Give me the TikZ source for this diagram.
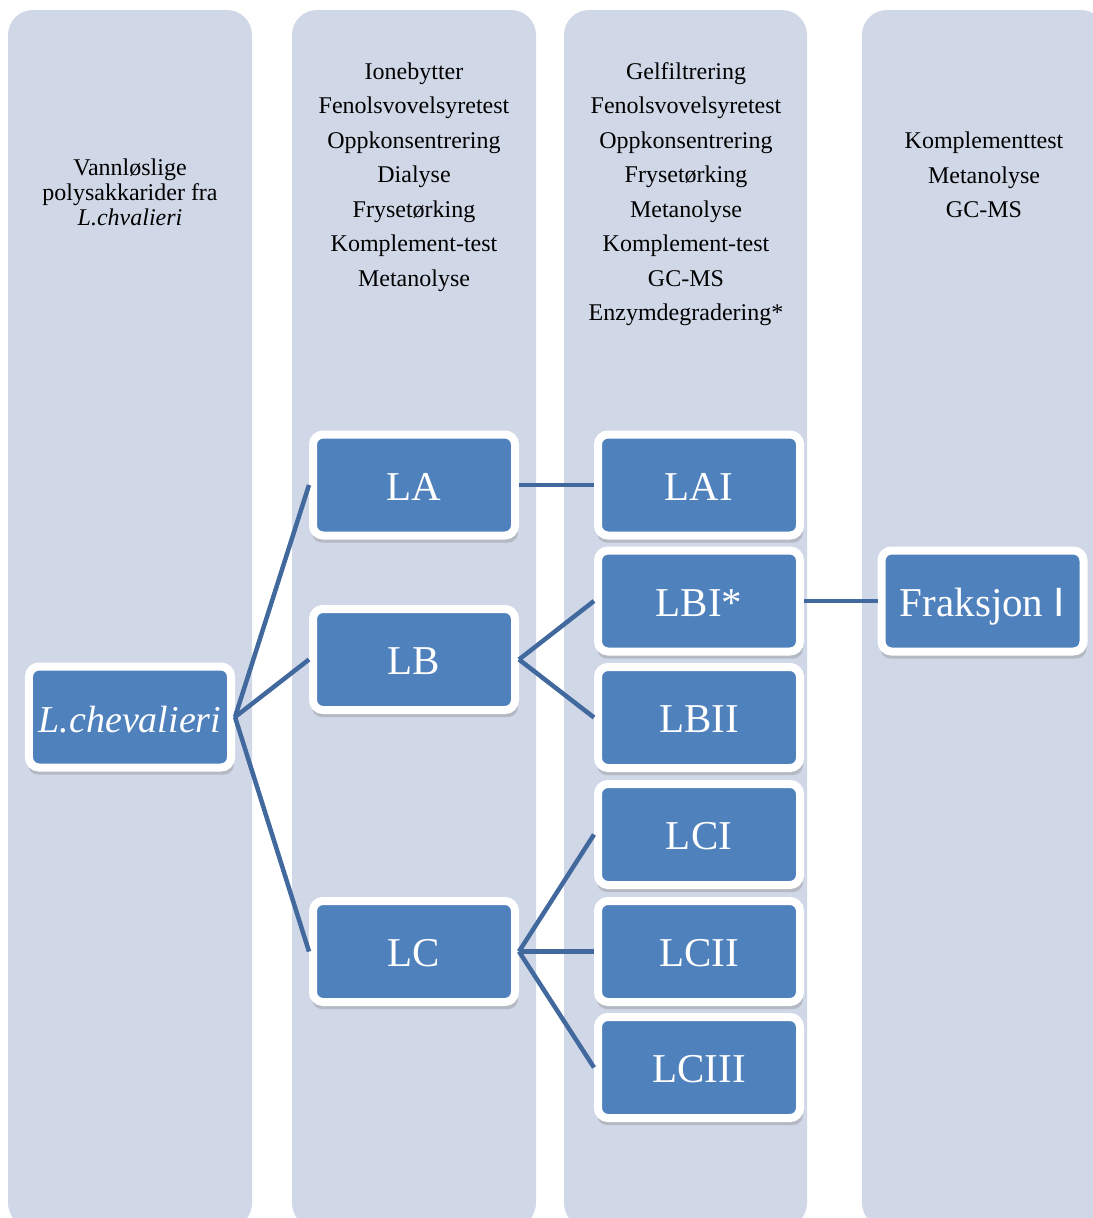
\documentclass[tikz,border=0pt]{standalone}
\usepackage{fontspec}
\setmainfont{Liberation Serif}
\setsansfont{Liberation Sans}
\usepackage{xcolor}
\usepackage{tikz}
\usetikzlibrary{shadows}
\definecolor{colbg}{HTML}{D0D8E8}
\definecolor{boxblue}{HTML}{4F81BD}
\definecolor{link}{HTML}{41699E}
\tikzset{
  every node/.style={inner sep=0pt},
  lane/.style={fill=colbg,rounded corners=25bp},
  head/.style={align=center,font=\fontsize{24bp}{34.5bp}\selectfont},
  frac/.style={fill=boxblue,draw=white,line width=8bp,rounded corners=10bp,
               minimum width=202bp,minimum height=101bp,text=white,
               text height=38bp,text depth=8bp,
               font=\fontsize{41bp}{41bp}\selectfont,
               drop shadow={shadow xshift=1bp,shadow yshift=-6bp,opacity=.35,shadow scale=1.02}},
  ln/.style={draw=link,line width=4.5bp},
}

\begin{document}
\begin{tikzpicture}[x=1bp,y=-1bp]
\useasboundingbox (0,0) rectangle (1093,1218);
\clip (0,0) rectangle (1093,1218);
\fill[lane] (8,10) rectangle (252,1228);
\fill[lane] (292,10) rectangle (536,1228);
\fill[lane] (564,10) rectangle (807,1228);
\fill[lane] (862,10) rectangle (1106,1228);
\node[head,font=\fontsize{24bp}{25bp}\selectfont] (h1) at (130,192) {Vannløslige\\polysakkarider fra\\\textit{L.chvalieri}};
\node[head] (h2) at (414,177) {Ionebytter\\Fenolsvovelsyretest\\Oppkonsentrering\\Dialyse\\Frysetørking\\Komplement-test\\Metanolyse};
\node[head] (h3) at (686,194) {Gelfiltrering\\Fenolsvovelsyretest\\Oppkonsentrering\\Frysetørking\\Metanolyse\\Komplement-test\\GC-MS\\Enzymdegradering*};
\node[head] (h4) at (984,175) {Komplementtest\\Metanolyse\\GC-MS};
\node[frac,font=\fontsize{38bp}{38bp}\selectfont\itshape] (lch) at (130,717) {L.chevalieri};
\node[frac] (la) at (414,485) {LA};
\node[frac] (lb) at (414,659.5) {LB};
\node[frac] (lc) at (414,951.5) {LC};
\node[frac] (lai) at (699,485) {LAI};
\node[frac] (lbi) at (699,601) {LBI*};
\node[frac] (lbii) at (699,717.5) {LBII};
\node[frac] (lci) at (699,834.5) {LCI};
\node[frac] (lcii) at (699,951.5) {LCII};
\node[frac] (lciii) at (699,1067.5) {LCIII};
\node[frac] (fr) at (982.5,601) {Fraksjon {\sffamily I}};
\draw[ln] (lch.east) -- (la.west);
\draw[ln] (lch.east) -- (lb.west);
\draw[ln] (lch.east) -- (lc.west);
\draw[ln] (la.east) -- (lai.west);
\draw[ln] (lb.east) -- (lbi.west);
\draw[ln] (lb.east) -- (lbii.west);
\draw[ln] (lc.east) -- (lci.west);
\draw[ln] (lc.east) -- (lcii.west);
\draw[ln] (lc.east) -- (lciii.west);
\draw[ln] (lbi.east) -- (fr.west);
\end{tikzpicture}
\end{document}
